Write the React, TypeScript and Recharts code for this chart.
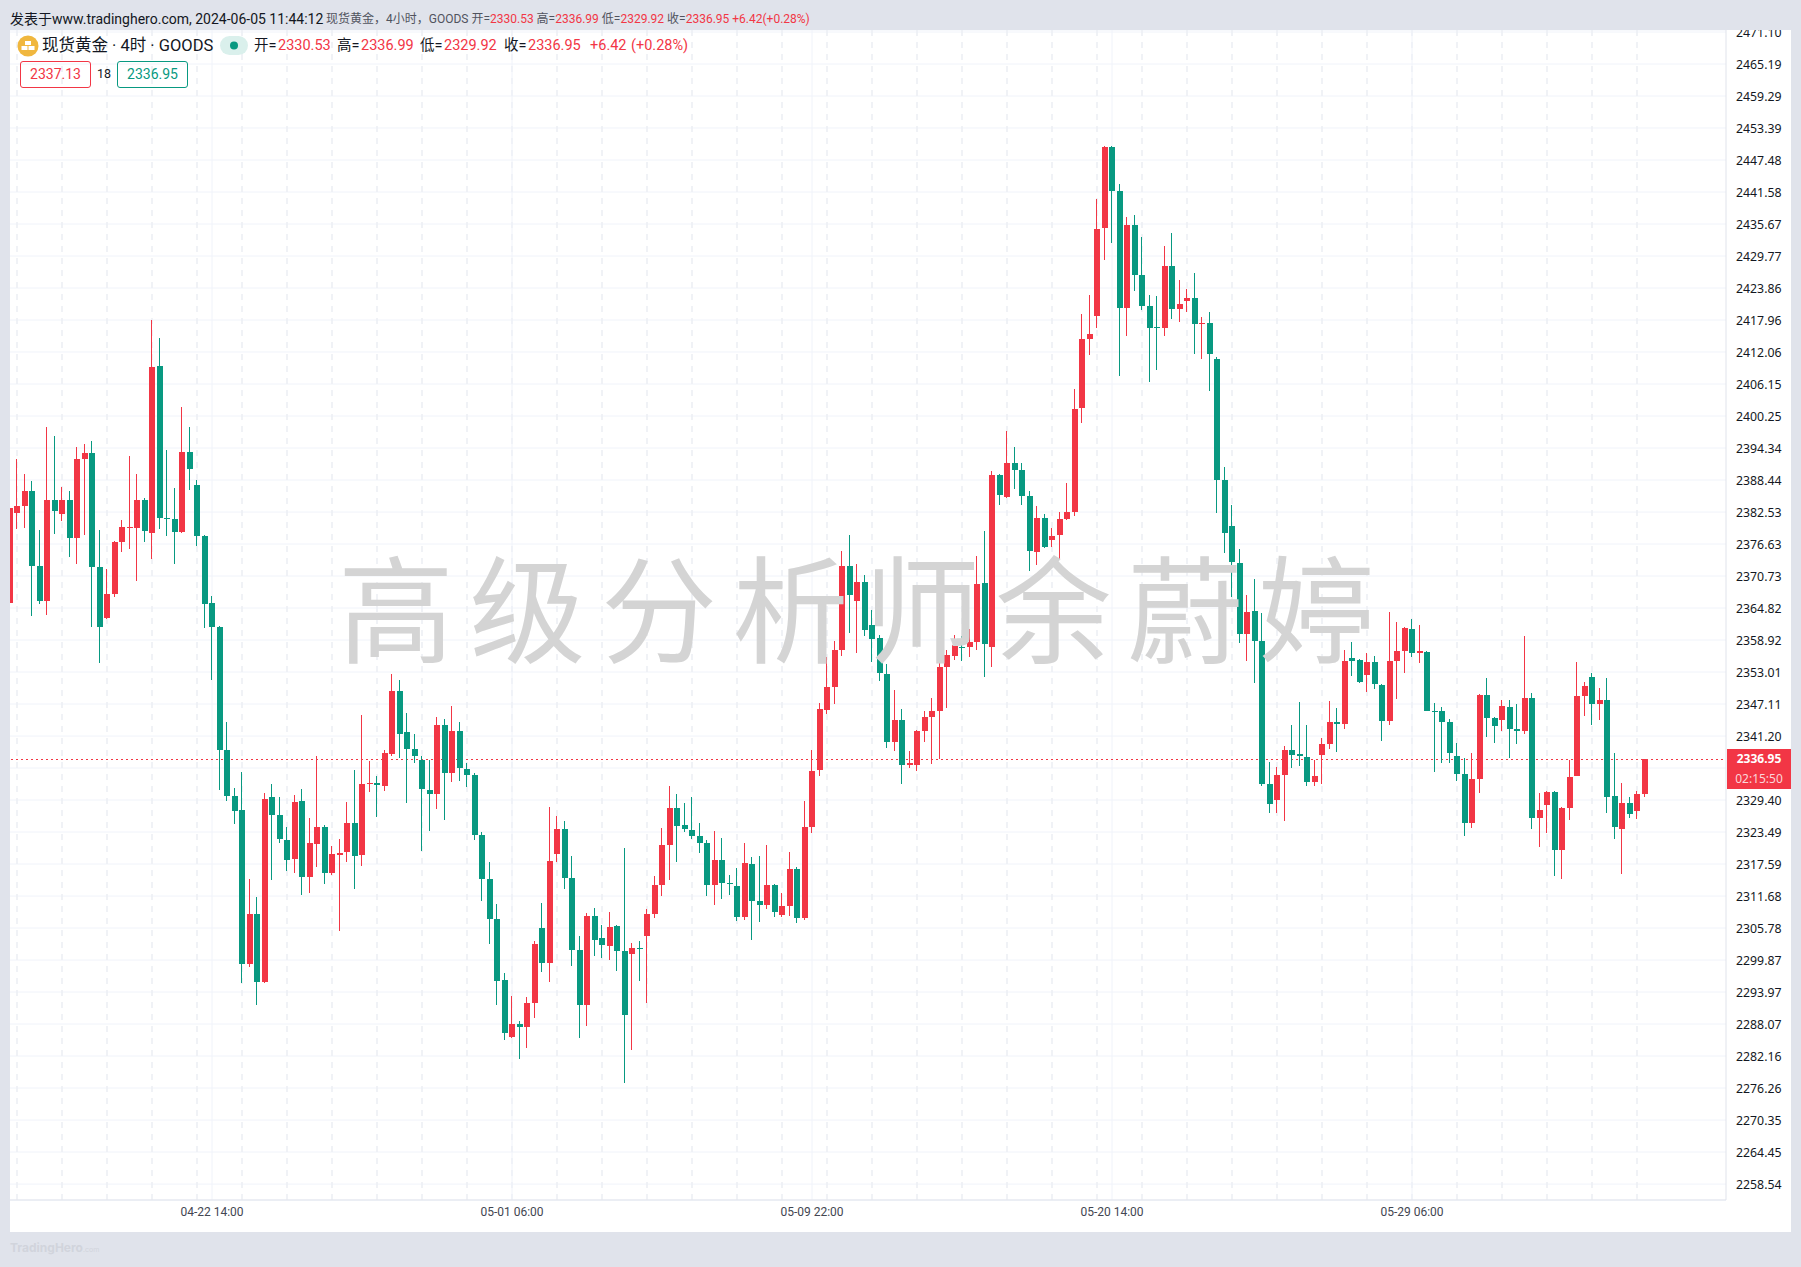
import React from 'react';
import { ComposedChart, Bar, XAxis, YAxis, CartesianGrid } from 'recharts';

const opens = [
  2365.7, 2382.5, 2383.7, 2386.4, 2372.6, 2366.2, 2384.8, 2382.1, 2384.7, 2377.7,
  2392.3, 2393.4, 2372.3, 2362.9, 2367.4, 2377.0, 2379.6, 2379.7, 2384.8, 2378.6,
  2409.4, 2381.4, 2381.2, 2379.0, 2393.7, 2387.6, 2378.1, 2365.7, 2361.3, 2338.6,
  2330.1, 2327.5, 2299.1, 2308.4, 2295.8, 2329.9, 2326.6, 2322.0, 2318.4, 2329.2,
  2315.1, 2321.4, 2324.5, 2315.9, 2319.4, 2319.8, 2325.1, 2319.2, 2332.3, 2332.5,
  2331.9, 2338.0, 2349.6, 2341.9, 2338.8, 2336.7, 2331.3, 2330.5, 2343.3, 2334.5,
  2342.2, 2335.2, 2334.1, 2323.0, 2314.9, 2307.5, 2296.1, 2285.7, 2288.0, 2287.5,
  2292.0, 2305.8, 2299.4, 2319.5, 2324.1, 2315.1, 2301.8, 2291.6, 2308.0, 2304.0,
  2302.5, 2306.2, 2301.6, 2301.0, 2302.1, 2304.4, 2308.4, 2313.8, 2321.1, 2328.0,
  2324.7, 2323.9, 2322.8, 2321.5, 2313.8, 2318.4, 2314.1, 2313.6, 2307.9, 2317.6,
  2310.8, 2310.1, 2313.8, 2308.2, 2309.9, 2316.7, 2307.7, 2324.5, 2334.8, 2346.1,
  2350.3, 2357.1, 2372.6, 2366.2, 2369.7, 2361.7, 2359.2, 2352.7, 2340.2, 2344.2,
  2336.0, 2336.0, 2342.2, 2344.8, 2345.9, 2353.9, 2355.9, 2357.7, 2357.6, 2358.6,
  2369.5, 2357.5, 2389.3, 2385.3, 2391.6, 2390.3, 2385.5, 2375.3, 2381.5, 2377.5,
  2378.4, 2381.3, 2382.6, 2401.6, 2414.4, 2418.7, 2434.8, 2449.8, 2441.8, 2420.2,
  2435.4, 2426.2, 2420.5, 2416.6, 2416.5, 2428.0, 2420.1, 2421.5, 2422.1, 2417.2,
  2417.5, 2410.7, 2388.4, 2379.9, 2373.2, 2360.1, 2364.3, 2358.8, 2332.4, 2329.4,
  2334.1, 2338.7, 2337.8, 2337.4, 2332.8, 2337.8, 2339.8, 2343.8, 2343.5, 2355.6,
  2355.3, 2352.5, 2354.9, 2350.7, 2344.0, 2355.1, 2356.9, 2361.0, 2356.6, 2356.8,
  2345.9, 2345.9, 2343.8, 2337.6, 2334.2, 2325.2, 2333.3, 2348.8, 2344.6, 2344.2,
  2346.6, 2342.5, 2342.2, 2348.3, 2326.1, 2328.5, 2330.9, 2320.2, 2328.0, 2333.9,
  2348.6, 2352.1, 2347.2, 2347.9, 2330.2, 2324.1, 2328.9, 2327.4, 2330.53,
];

const highs = [
  2383.2, 2392.3, 2389.5, 2388.2, 2379.3, 2398.3, 2396.5, 2387.1, 2386.4, 2394.5,
  2395.1, 2395.7, 2379.2, 2372.1, 2377.2, 2381.0, 2392.8, 2389.5, 2385.2, 2417.9,
  2414.7, 2393.9, 2386.9, 2402.0, 2398.3, 2388.5, 2378.3, 2367.1, 2361.5, 2343.8,
  2331.7, 2334.5, 2314.8, 2311.5, 2330.7, 2332.3, 2329.9, 2324.4, 2330.3, 2331.4,
  2326.1, 2337.5, 2324.7, 2321.0, 2322.2, 2329.0, 2334.9, 2345.0, 2336.6, 2333.9,
  2338.7, 2352.6, 2351.5, 2345.4, 2341.6, 2337.5, 2336.7, 2344.7, 2344.3, 2346.8,
  2343.8, 2336.3, 2334.4, 2323.5, 2318.0, 2310.3, 2297.5, 2293.3, 2288.7, 2293.0,
  2303.4, 2310.4, 2328.1, 2326.5, 2325.5, 2319.1, 2304.4, 2308.6, 2309.5, 2306.4,
  2308.8, 2306.4, 2320.6, 2303.1, 2303.4, 2309.2, 2315.4, 2324.3, 2332.0, 2330.6,
  2328.9, 2330.0, 2325.2, 2322.1, 2323.7, 2322.4, 2315.6, 2316.9, 2321.5, 2318.9,
  2319.1, 2321.1, 2313.9, 2312.3, 2319.8, 2317.1, 2329.2, 2338.7, 2347.3, 2355.8,
  2358.8, 2375.4, 2378.3, 2373.0, 2371.0, 2364.5, 2359.9, 2354.5, 2349.7, 2346.1,
  2338.4, 2342.4, 2345.8, 2348.3, 2355.2, 2357.1, 2359.8, 2359.6, 2361.0, 2374.4,
  2379.0, 2390.1, 2389.5, 2397.4, 2394.5, 2391.5, 2386.4, 2383.7, 2382.1, 2379.6,
  2382.5, 2387.8, 2405.2, 2419.0, 2422.6, 2440.3, 2450.0, 2450.0, 2443.0, 2436.9,
  2437.4, 2433.2, 2422.5, 2422.3, 2431.7, 2434.1, 2425.3, 2423.6, 2426.7, 2418.5,
  2419.5, 2411.2, 2390.9, 2383.9, 2375.8, 2367.3, 2370.1, 2363.9, 2336.5, 2335.4,
  2339.4, 2343.3, 2347.5, 2343.3, 2336.8, 2340.9, 2347.7, 2346.4, 2357.1, 2358.6,
  2355.4, 2356.6, 2356.0, 2350.8, 2364.1, 2362.3, 2361.4, 2362.8, 2361.6, 2356.9,
  2347.3, 2346.6, 2344.4, 2340.0, 2337.2, 2338.1, 2348.9, 2352.0, 2344.8, 2347.9,
  2347.9, 2347.2, 2359.7, 2349.2, 2330.7, 2331.1, 2331.1, 2328.1, 2336.8, 2354.9,
  2351.2, 2352.9, 2350.1, 2352.0, 2338.1, 2332.6, 2330.0, 2331.1, 2336.99,
];

const lows = [
  2365.7, 2379.3, 2379.5, 2363.2, 2365.6, 2363.7, 2378.4, 2380.9, 2374.3, 2372.9,
  2378.4, 2361.3, 2354.7, 2362.8, 2366.9, 2375.1, 2375.7, 2369.8, 2377.0, 2373.8,
  2379.5, 2378.1, 2372.9, 2378.8, 2386.7, 2376.3, 2361.1, 2351.6, 2331.3, 2329.3,
  2325.1, 2295.6, 2298.5, 2291.5, 2295.6, 2314.6, 2321.4, 2316.2, 2315.9, 2311.8,
  2312.2, 2317.0, 2313.9, 2315.6, 2305.2, 2317.9, 2312.9, 2317.2, 2330.8, 2326.4,
  2331.2, 2337.5, 2337.1, 2328.8, 2336.2, 2320.0, 2323.6, 2327.8, 2325.6, 2332.8,
  2333.0, 2331.9, 2322.0, 2310.7, 2302.9, 2291.6, 2285.2, 2285.5, 2281.7, 2283.5,
  2289.2, 2297.6, 2295.8, 2318.1, 2313.0, 2298.8, 2285.5, 2287.8, 2300.7, 2300.3,
  2299.9, 2297.9, 2277.2, 2283.3, 2296.1, 2291.8, 2307.7, 2311.8, 2314.7, 2318.0,
  2323.5, 2322.2, 2319.7, 2311.8, 2310.1, 2311.2, 2311.9, 2307.1, 2307.3, 2303.6,
  2306.9, 2309.2, 2307.9, 2307.9, 2307.9, 2306.8, 2307.3, 2323.4, 2333.9, 2345.3,
  2347.2, 2356.0, 2360.3, 2356.6, 2359.7, 2354.9, 2351.4, 2339.0, 2338.5, 2332.2,
  2335.3, 2334.8, 2340.1, 2336.1, 2336.9, 2346.4, 2355.2, 2354.9, 2355.9, 2357.0,
  2352.0, 2354.0, 2383.7, 2385.0, 2386.7, 2383.7, 2371.7, 2372.8, 2375.8, 2376.1,
  2373.9, 2380.9, 2381.8, 2398.8, 2411.6, 2416.5, 2429.0, 2432.1, 2407.6, 2414.9,
  2423.4, 2419.8, 2406.4, 2408.6, 2415.1, 2418.3, 2417.5, 2419.4, 2411.7, 2410.8,
  2404.9, 2382.4, 2375.0, 2366.9, 2358.5, 2355.1, 2350.9, 2332.0, 2327.1, 2326.9,
  2325.6, 2335.4, 2335.7, 2332.0, 2332.0, 2332.4, 2338.9, 2338.3, 2342.5, 2352.3,
  2350.9, 2349.4, 2349.9, 2340.3, 2343.3, 2348.1, 2352.9, 2355.8, 2354.5, 2345.8,
  2334.6, 2336.3, 2336.3, 2333.0, 2322.8, 2324.3, 2330.7, 2341.1, 2340.0, 2342.2,
  2337.2, 2339.8, 2341.6, 2324.1, 2320.8, 2323.4, 2315.4, 2314.9, 2325.8, 2333.8,
  2344.9, 2343.3, 2344.2, 2327.1, 2322.2, 2315.8, 2326.1, 2325.9, 2329.92,
];

const closes = [
  2383.2, 2383.7, 2386.5, 2372.6, 2366.2, 2384.8, 2382.8, 2384.7, 2377.7, 2392.3,
  2393.4, 2372.3, 2361.3, 2367.4, 2377.0, 2379.7, 2379.7, 2384.8, 2379.0, 2409.2,
  2381.4, 2381.2, 2378.8, 2393.7, 2390.6, 2378.1, 2365.5, 2361.3, 2338.6, 2330.1,
  2327.3, 2299.1, 2308.4, 2295.8, 2329.5, 2326.6, 2322.2, 2318.4, 2329.0, 2315.1,
  2321.4, 2324.5, 2316.1, 2319.4, 2319.7, 2325.1, 2319.0, 2332.3, 2332.5, 2332.2,
  2338.0, 2349.6, 2341.6, 2338.8, 2337.5, 2331.3, 2330.5, 2343.3, 2334.5, 2342.2,
  2335.4, 2334.1, 2323.0, 2314.9, 2307.5, 2296.1, 2286.3, 2288.1, 2287.5, 2292.0,
  2302.9, 2299.4, 2318.2, 2324.1, 2315.1, 2301.8, 2291.6, 2308.0, 2303.6, 2302.7,
  2306.0, 2301.6, 2289.8, 2302.1, 2302.0, 2308.4, 2313.8, 2321.1, 2328.0, 2324.7,
  2323.9, 2322.8, 2321.5, 2313.8, 2318.4, 2314.1, 2314.0, 2307.9, 2317.8, 2310.8,
  2310.1, 2313.8, 2308.8, 2309.9, 2316.7, 2307.7, 2324.5, 2334.8, 2346.1, 2350.3,
  2357.1, 2372.6, 2367.3, 2369.7, 2360.8, 2359.2, 2352.7, 2340.2, 2344.2, 2335.9,
  2336.3, 2342.2, 2344.7, 2345.9, 2354.0, 2356.1, 2358.0, 2357.5, 2358.6, 2369.3,
  2358.3, 2389.3, 2385.7, 2391.6, 2390.3, 2385.5, 2375.3, 2381.5, 2376.1, 2378.2,
  2381.3, 2382.6, 2401.6, 2414.4, 2415.3, 2434.8, 2449.8, 2441.6, 2420.2, 2435.5,
  2426.2, 2420.5, 2416.5, 2416.4, 2428.0, 2420.1, 2421.0, 2422.1, 2417.3, 2417.4,
  2411.7, 2388.4, 2378.7, 2373.2, 2360.1, 2364.1, 2358.8, 2332.4, 2328.7, 2334.1,
  2338.7, 2337.8, 2337.4, 2332.8, 2333.9, 2339.8, 2343.8, 2343.5, 2355.1, 2355.1,
  2351.2, 2354.9, 2350.9, 2344.0, 2355.1, 2356.9, 2361.2, 2356.6, 2356.9, 2345.9,
  2345.7, 2343.8, 2338.1, 2334.2, 2325.2, 2333.3, 2348.8, 2344.6, 2343.1, 2346.8,
  2342.5, 2342.2, 2348.3, 2326.1, 2327.6, 2330.9, 2320.2, 2328.0, 2333.7, 2348.6,
  2350.5, 2347.2, 2347.9, 2330.0, 2324.5, 2328.9, 2326.9, 2330.5, 2336.95,
];

const priceTicks = [
  2471.10, 2465.19, 2459.29, 2453.39, 2447.48, 2441.58, 2435.67, 2429.77, 2423.86, 2417.96,
  2412.06, 2406.15, 2400.25, 2394.34, 2388.44, 2382.53, 2376.63, 2370.73, 2364.82, 2358.92,
  2353.01, 2347.11, 2341.20, 2335.30, 2329.40, 2323.49, 2317.59, 2311.68, 2305.78, 2299.87,
  2293.97, 2288.07, 2282.16, 2276.26, 2270.35, 2264.45, 2258.54,
];
const hiddenPriceTick = 2335.30; // sits under the last price badge
const timeTickBars = [27, 67, 107, 147, 187];
const timeTickLabels = ['04-22 14:00', '05-01 06:00', '05-09 22:00', '05-20 14:00', '05-29 06:00'];
const dashedBars = [
  1, 7, 13, 19, 25, 31, 37, 43, 49, 55, 61, 67, 73, 79, 85, 91, 97, 103, 109, 115, 121, 127, 133,
  139, 145, 151, 157, 163, 169, 175, 181, 187, 193, 199, 205, 211, 217,
];
const lastPrice = 2336.95;

const RED = '#f23645';
const GREEN = '#089981';
const BAND = '#e0e3eb';
const FONT = "Roboto, 'Noto Sans CJK SC', sans-serif";

const data = opens.map((open, i) => ({ i, open, high: highs[i], low: lows[i], close: closes[i] }));

// wick and body are both worked out from the bar's own [low, high] pixels
const Candle = (props: any) => {
  const { x, y, height, payload } = props;
  const unit = height / (payload.high - payload.low);
  const top = Math.max(payload.open, payload.close);
  const bottom = Math.min(payload.open, payload.close);
  const color = payload.close >= payload.open ? RED : GREEN;
  const left = Math.round(x);
  return (
    <g shapeRendering="crispEdges">
      <rect x={left + 2} y={Math.round(y)} width={1} height={Math.max(1, Math.round(height))} fill={color} />
      <rect
        x={left}
        y={Math.round(y + (payload.high - top) * unit)}
        width={6}
        height={Math.max(1, Math.round((top - bottom) * unit))}
        fill={color}
      />
    </g>
  );
};

const Txt = ({ x, y, size, color = '#131722', children, style }: any) => (
  <span
    style={{
      position: 'absolute', left: x, top: y, fontSize: size, lineHeight: '20px', height: 20,
      color, whiteSpace: 'nowrap', fontFamily: FONT, ...style,
    }}
  >
    {children}
  </span>
);

const box = (x: number, color: string): React.CSSProperties => ({
  position: 'absolute', left: x, top: 61, width: 69, height: 25, border: `1px solid ${color}`,
  borderRadius: 3, color, fontFamily: FONT, fontSize: 14, lineHeight: '25px', textAlign: 'center',
});

const Red = ({ children }: any) => <span style={{ color: RED }}>{children}</span>;

export default function App() {
  return (
    <div style={{ position: 'absolute', left: 0, top: 0, width: 1801, height: 1267, background: BAND, overflow: 'hidden' }}>
      <div style={{ position: 'absolute', left: 10, top: 30, width: 1781, height: 1202, background: '#fff' }} />
      <div style={{ position: 'absolute', left: 0, top: 0 }}>
        <ComposedChart
          width={1801}
          height={1232}
          data={data}
          margin={{ top: 30, right: 10, bottom: 0, left: 5.75 }}
          barSize={6}
        >
          <CartesianGrid vertical={false} stroke="#f0f3fa" />
          <CartesianGrid horizontal={false} stroke="#eceef3" strokeWidth={1.5} strokeDasharray="6 6" verticalValues={dashedBars} />
          <CartesianGrid horizontal={false} stroke="#f0f3fa" verticalValues={timeTickBars} />
          <CartesianGrid vertical={false} stroke={RED} strokeDasharray="2 3" shapeRendering="crispEdges" horizontalValues={[lastPrice]} />
          <XAxis
            dataKey="i"
            type="category"
            ticks={timeTickBars}
            interval={0}
            padding={{ left: 0, right: 77.75 }}
            height={32}
            axisLine={{ stroke: BAND }}
            tickLine={false}
            tickMargin={1}
            tick={{ fontSize: 12, fontFamily: 'Roboto', fill: '#434651' }}
            tickFormatter={(v: number) => timeTickLabels[timeTickBars.indexOf(v)]}
          />
          <YAxis
            orientation="right"
            width={65}
            domain={[2255.6, 2471.47]}
            allowDataOverflow
            ticks={priceTicks}
            interval={0}
            axisLine={{ stroke: BAND }}
            tickLine={false}
            tickMargin={4}
            tick={{ fontSize: 12.3, fontFamily: "'Noto Sans'", fill: '#131722', dy: 1 }}
            tickFormatter={(v: number) => (v === hiddenPriceTick ? '' : v.toFixed(2))}
          />
          <Bar dataKey={(d: any) => [d.low, d.high]} shape={<Candle />} isAnimationActive={false} />
        </ComposedChart>
      </div>

      {/* the picture's margins cover whatever runs past the plot */}
      <div style={{ position: 'absolute', left: 0, top: 0, width: 1801, height: 30, background: BAND }} />
      <div style={{ position: 'absolute', left: 0, top: 0, width: 10, height: 1267, background: BAND }} />

      <div
        style={{
          position: 'absolute', left: 338, top: 533, fontSize: 116, lineHeight: '140px', letterSpacing: 15.5,
          color: '#d4d4d4', whiteSpace: 'nowrap', fontFamily: "'Noto Sans CJK SC'", fontWeight: 400,
        }}
      >
        高级分析师余蔚婷
      </div>

      <Txt x={10} y={9} size={14}>发表于www.tradinghero.com, 2024-06-05 11:44:12</Txt>
      <Txt x={326} y={9} size={12} color="#50535e">
        现货黄金，4小时，GOODS 开=<Red>2330.53</Red> 高=<Red>2336.99</Red> 低=<Red>2329.92</Red> 收=<Red>2336.95 +6.42(+0.28%)</Red>
      </Txt>

      <svg style={{ position: 'absolute', left: 17, top: 35 }} width={22} height={22}>
        <circle cx={11} cy={11} r={10.5} fill="#f0b73e" />
        <rect x={8} y={6} width={6} height={4} fill="#fff" />
        <rect x={4.5} y={11} width={6} height={4} fill="#fff" />
        <rect x={11.5} y={11} width={6} height={4} fill="#fff" />
      </svg>
      <Txt x={42} y={36} size={16.5}>现货黄金 · 4时 · GOODS</Txt>
      <svg style={{ position: 'absolute', left: 220, top: 36 }} width={28} height={19}>
        <rect width={28} height={19} rx={9.5} fill="#daf0ec" />
        <circle cx={14} cy={9.5} r={4} fill={GREEN} />
      </svg>
      <Txt x={254} y={36} size={14.5}>开=</Txt>
      <Txt x={278} y={36} size={14.5} color={RED}>2330.53</Txt>
      <Txt x={337} y={36} size={14.5}>高=</Txt>
      <Txt x={361} y={36} size={14.5} color={RED}>2336.99</Txt>
      <Txt x={420} y={36} size={14.5}>低=</Txt>
      <Txt x={444} y={36} size={14.5} color={RED}>2329.92</Txt>
      <Txt x={504} y={36} size={14.5}>收=</Txt>
      <Txt x={528} y={36} size={14.5} color={RED}>2336.95</Txt>
      <Txt x={590} y={36} size={14.5} color={RED}>+6.42</Txt>
      <Txt x={631} y={36} size={14.5} color={RED}>(+0.28%)</Txt>

      <div style={box(20, RED)}>2337.13</div>
      <Txt x={97} y={64} size={12.5}>18</Txt>
      <div style={box(117, GREEN)}>2336.95</div>

      <div style={{ position: 'absolute', left: 1727, top: 749, width: 64, height: 40, background: RED, textAlign: 'center', fontFamily: "'Noto Sans'", fontSize: 12, lineHeight: '20px' }}>
        <div style={{ color: '#fff', fontWeight: 700 }}>{lastPrice.toFixed(2)}</div>
        <div style={{ color: '#fbd5d8' }}>02:15:50</div>
      </div>

      <Txt x={10} y={1238} size={12} color="#d1d4dc" style={{ fontWeight: 700, fontFamily: 'Inter' }}>
        TradingHero<span style={{ fontSize: 7, fontWeight: 400 }}>.com</span>
      </Txt>
    </div>
  );
}
